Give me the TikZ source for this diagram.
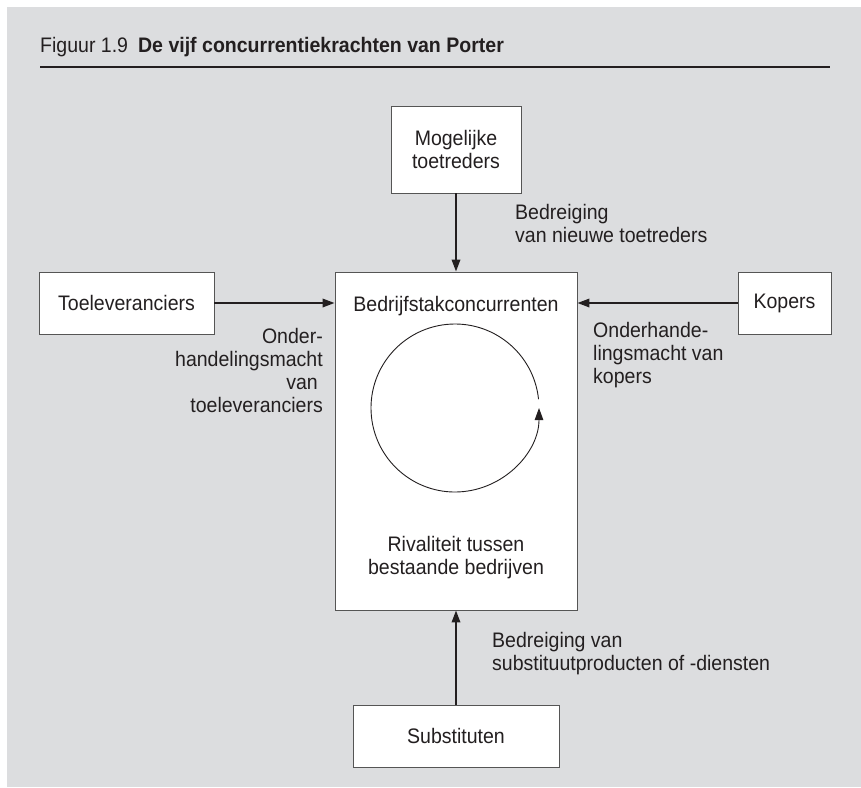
\documentclass[tikz,border=0pt]{standalone}
\usepackage{fontspec}
\setmainfont{Liberation Sans}[FakeStretch=0.93]
\usetikzlibrary{arrows.meta}
\definecolor{panel}{HTML}{DCDDDF}
\definecolor{ink}{HTML}{231F20}
\definecolor{edge}{HTML}{555555}

\begin{document}
\begin{tikzpicture}[x=1pt, y=-1pt, >={Triangle[length=12pt,width=8.5pt]},
  box/.style={draw=edge, line width=0.9pt, fill=white, text=ink, inner sep=0pt, align=center},
  lbl/.style={text=ink, inner sep=0pt},
  force/.style={ink, line width=1.8pt, ->},
  font=\fontsize{21}{23}\selectfont]
\useasboundingbox (0,0) rectangle (861,787);
\fill[white] (0,0) rectangle (861,787);
\fill[panel] (7,7) rectangle (861,787);
% titel
\node[lbl, anchor=base west] (titel) at (40,52) {Figuur 1.9\hspace{10pt}\textbf{De vijf concurrentiekrachten van Porter}};
\draw[ink, line width=2pt] (40,67) -- (830,67);
% vijf krachten
\node[box, minimum width=130, minimum height=87] (toetreders) at (456,149.5) {Mogelijke\\toetreders};
\node[box, minimum width=175, minimum height=62] (leveranciers) at (126.5,303) {Toeleveranciers};
\node[box, minimum width=93, minimum height=62] (kopers) at (784.5,303) {Kopers};
\node[box, minimum width=242, minimum height=338] (kern) at (456,441) {};
\node[box, minimum width=206, minimum height=62] (substituten) at (456,736) {Substituten};
% binnen de bedrijfstak
\node[lbl] (concurrenten) at (456,306) {Bedrijfstakconcurrenten};
\node[lbl, align=center] (rivaliteit) at (456,558) {Rivaliteit tussen\\bestaande bedrijven};
\coordinate (midden) at (455,408);
\draw[ink, line width=0.9pt, ->] ([shift={(-6:84)}]midden) arc[start angle=-6, end angle=-360, radius=84];
% pijlen
\draw[force] (toetreders) -- (kern);
\draw[force] (leveranciers.east) -- (leveranciers.east -| kern.west);
\draw[force] (kopers.west) -- (kopers.west -| kern.east);
\draw[force] (substituten) -- (kern);
% bijschriften
\node[lbl, anchor=west, align=left] (nieuw-dreiging) at (515,223.5) {Bedreiging\\van nieuwe toetreders};
\node[lbl, anchor=east, align=right] (lev-macht) at (323,370) {Onder-\\handelingsmacht\\van\rule{5pt}{0pt}\\toeleveranciers};
\node[lbl, anchor=west, align=left] (kop-macht) at (593,355) {Onderhande-\\lingsmacht van\\kopers};
\node[lbl, anchor=west, align=left] (sub-dreiging) at (492,654) {Bedreiging van\\substituutproducten of -diensten};
\end{tikzpicture}
\end{document}
